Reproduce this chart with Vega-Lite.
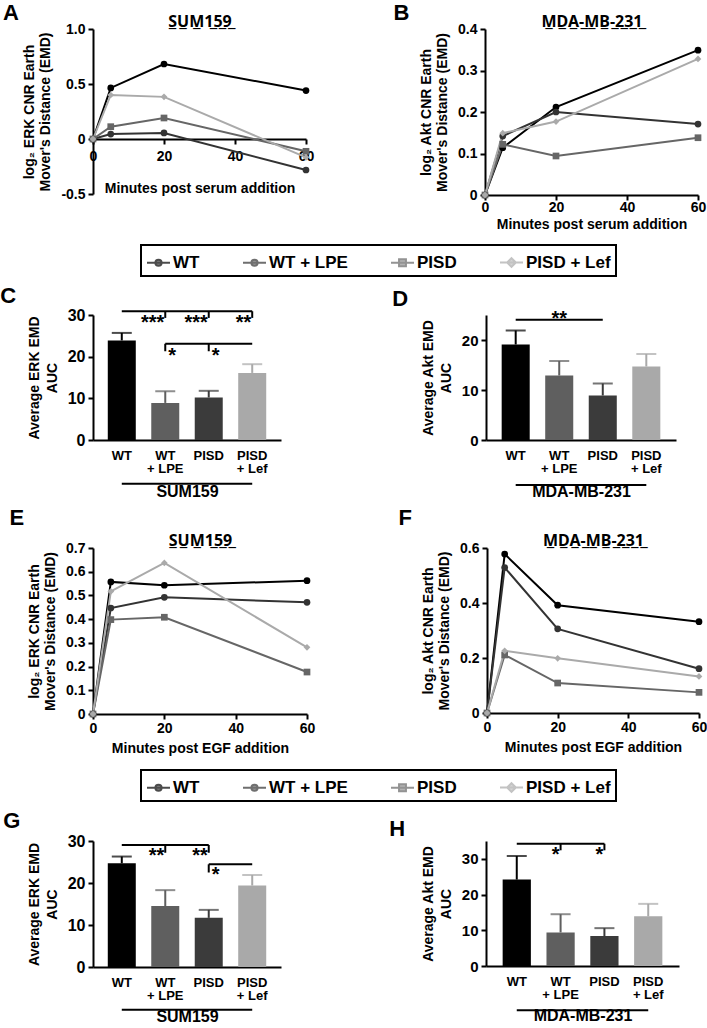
{
  "$schema": "https://vega.github.io/schema/vega-lite/v6.json",
  "padding": {"top": 2, "left": 0, "right": 0, "bottom": 0},
  "background": "white",
  "columns": 1,
  "align": "none",
  "spacing": 8,
  "datasets": {
    "serum_sum159": [
      {"series": "WT", "minutes": 0, "emd": 0}, {"series": "WT", "minutes": 5, "emd": 0.464}, {"series": "WT", "minutes": 20, "emd": 0.682}, {"series": "WT", "minutes": 60, "emd": 0.44},
      {"series": "WT + LPE", "minutes": 0, "emd": 0}, {"series": "WT + LPE", "minutes": 5, "emd": 0.045}, {"series": "WT + LPE", "minutes": 20, "emd": 0.055}, {"series": "WT + LPE", "minutes": 60, "emd": -0.282},
      {"series": "PISD", "minutes": 0, "emd": 0}, {"series": "PISD", "minutes": 5, "emd": 0.112}, {"series": "PISD", "minutes": 20, "emd": 0.191}, {"series": "PISD", "minutes": 60, "emd": -0.112},
      {"series": "PISD + Lef", "minutes": 0, "emd": 0}, {"series": "PISD + Lef", "minutes": 5, "emd": 0.4}, {"series": "PISD + Lef", "minutes": 20, "emd": 0.383}, {"series": "PISD + Lef", "minutes": 60, "emd": -0.167}
    ],
    "serum_mda": [
      {"series": "WT", "minutes": 0, "emd": 0}, {"series": "WT", "minutes": 5, "emd": 0.114}, {"series": "WT", "minutes": 20, "emd": 0.212}, {"series": "WT", "minutes": 60, "emd": 0.349},
      {"series": "WT + LPE", "minutes": 0, "emd": 0}, {"series": "WT + LPE", "minutes": 5, "emd": 0.142}, {"series": "WT + LPE", "minutes": 20, "emd": 0.2}, {"series": "WT + LPE", "minutes": 60, "emd": 0.171},
      {"series": "PISD", "minutes": 0, "emd": 0}, {"series": "PISD", "minutes": 5, "emd": 0.122}, {"series": "PISD", "minutes": 20, "emd": 0.094}, {"series": "PISD", "minutes": 60, "emd": 0.138},
      {"series": "PISD + Lef", "minutes": 0, "emd": 0}, {"series": "PISD + Lef", "minutes": 5, "emd": 0.149}, {"series": "PISD + Lef", "minutes": 20, "emd": 0.177}, {"series": "PISD + Lef", "minutes": 60, "emd": 0.328}
    ],
    "egf_sum159": [
      {"series": "WT", "minutes": 0, "emd": 0}, {"series": "WT", "minutes": 5, "emd": 0.557}, {"series": "WT", "minutes": 20, "emd": 0.543}, {"series": "WT", "minutes": 60, "emd": 0.562},
      {"series": "WT + LPE", "minutes": 0, "emd": 0}, {"series": "WT + LPE", "minutes": 5, "emd": 0.447}, {"series": "WT + LPE", "minutes": 20, "emd": 0.492}, {"series": "WT + LPE", "minutes": 60, "emd": 0.471},
      {"series": "PISD", "minutes": 0, "emd": 0}, {"series": "PISD", "minutes": 5, "emd": 0.398}, {"series": "PISD", "minutes": 20, "emd": 0.408}, {"series": "PISD", "minutes": 60, "emd": 0.177},
      {"series": "PISD + Lef", "minutes": 0, "emd": 0}, {"series": "PISD + Lef", "minutes": 5, "emd": 0.517}, {"series": "PISD + Lef", "minutes": 20, "emd": 0.637}, {"series": "PISD + Lef", "minutes": 60, "emd": 0.281}
    ],
    "egf_mda": [
      {"series": "WT", "minutes": 0, "emd": 0}, {"series": "WT", "minutes": 5, "emd": 0.578}, {"series": "WT", "minutes": 20, "emd": 0.392}, {"series": "WT", "minutes": 60, "emd": 0.332},
      {"series": "WT + LPE", "minutes": 0, "emd": 0}, {"series": "WT + LPE", "minutes": 5, "emd": 0.529}, {"series": "WT + LPE", "minutes": 20, "emd": 0.306}, {"series": "WT + LPE", "minutes": 60, "emd": 0.161},
      {"series": "PISD", "minutes": 0, "emd": 0}, {"series": "PISD", "minutes": 5, "emd": 0.211}, {"series": "PISD", "minutes": 20, "emd": 0.109}, {"series": "PISD", "minutes": 60, "emd": 0.075},
      {"series": "PISD + Lef", "minutes": 0, "emd": 0}, {"series": "PISD + Lef", "minutes": 5, "emd": 0.226}, {"series": "PISD + Lef", "minutes": 20, "emd": 0.199}, {"series": "PISD + Lef", "minutes": 60, "emd": 0.133}
    ],
    "auc": [
      {"panel": "C", "group": "WT", "mean": 23.9, "upper": 25.7},
      {"panel": "C", "group": "WT + LPE", "mean": 8.9, "upper": 11.7},
      {"panel": "C", "group": "PISD", "mean": 10.2, "upper": 11.8},
      {"panel": "C", "group": "PISD + Lef", "mean": 16.1, "upper": 18.2},
      {"panel": "D", "group": "WT", "mean": 19.1, "upper": 21.9},
      {"panel": "D", "group": "WT + LPE", "mean": 12.9, "upper": 15.8},
      {"panel": "D", "group": "PISD", "mean": 8.9, "upper": 11.3},
      {"panel": "D", "group": "PISD + Lef", "mean": 14.7, "upper": 17.2},
      {"panel": "G", "group": "WT", "mean": 24.7, "upper": 26.3},
      {"panel": "G", "group": "WT + LPE", "mean": 14.5, "upper": 18.3},
      {"panel": "G", "group": "PISD", "mean": 11.7, "upper": 13.6},
      {"panel": "G", "group": "PISD + Lef", "mean": 19.4, "upper": 21.9},
      {"panel": "H", "group": "WT", "mean": 24.2, "upper": 30.8},
      {"panel": "H", "group": "WT + LPE", "mean": 9.4, "upper": 14.5},
      {"panel": "H", "group": "PISD", "mean": 8.4, "upper": 10.6},
      {"panel": "H", "group": "PISD + Lef", "mean": 13.9, "upper": 17.4}
    ],
    "sig_lines": [
      {"panel": "C", "from": "WT", "to": "PISD + Lef", "y": 30.9},
      {"panel": "C", "from": "WT + LPE", "to": "PISD + Lef", "y": 23.1},
      {"panel": "D", "from": "WT", "to": "PISD", "y": 24.05},
      {"panel": "G", "from": "WT", "to": "PISD", "y": 29.05},
      {"panel": "G", "from": "PISD", "to": "PISD + Lef", "y": 24.45},
      {"panel": "H", "from": "WT", "to": "PISD", "y": 34.24}
    ],
    "sig_ticks": [
      {"panel": "C", "at": "WT + LPE", "y": 30.9, "y2": 29.3},
      {"panel": "C", "at": "PISD", "y": 30.9, "y2": 29.3},
      {"panel": "C", "at": "PISD + Lef", "y": 30.9, "y2": 29.3},
      {"panel": "C", "at": "WT + LPE", "y": 23.1, "y2": 21.3},
      {"panel": "C", "at": "PISD", "y": 23.1, "y2": 21.3},
      {"panel": "G", "at": "WT + LPE", "y": 29.05, "y2": 27.2},
      {"panel": "G", "at": "PISD", "y": 29.05, "y2": 27.2},
      {"panel": "G", "at": "PISD", "y": 24.45, "y2": 22.5},
      {"panel": "H", "at": "WT + LPE", "y": 34.24, "y2": 32.4},
      {"panel": "H", "at": "PISD", "y": 34.24, "y2": 32.4}
    ],
    "sig_stars": [
      {"panel": "C", "at": "WT + LPE", "y": 29.35, "label": "***", "side": "left"},
      {"panel": "C", "at": "PISD", "y": 29.35, "label": "***", "side": "left"},
      {"panel": "C", "at": "PISD + Lef", "y": 29.35, "label": "**", "side": "left"},
      {"panel": "C", "at": "WT + LPE", "y": 21.4, "label": "*", "side": "right"},
      {"panel": "C", "at": "PISD", "y": 21.4, "label": "*", "side": "right"},
      {"panel": "D", "at": "WT + LPE", "y": 25.3, "label": "**", "side": "center"},
      {"panel": "G", "at": "WT + LPE", "y": 27.6, "label": "**", "side": "left"},
      {"panel": "G", "at": "PISD", "y": 27.6, "label": "**", "side": "left"},
      {"panel": "G", "at": "PISD", "y": 23.0, "label": "*", "side": "right"},
      {"panel": "H", "at": "WT + LPE", "y": 32.55, "label": "*", "side": "left"},
      {"panel": "H", "at": "PISD", "y": 32.55, "label": "*", "side": "left"}
    ],
    "cell_lines": [
      {"panel": "C", "from": "WT", "to": "PISD + Lef", "y": -10.5},
      {"panel": "D", "from": "WT", "to": "PISD + Lef", "y": -9},
      {"panel": "G", "from": "WT", "to": "PISD + Lef", "y": -10.2},
      {"panel": "H", "from": "WT", "to": "PISD + Lef", "y": -12.4}
    ],
    "legend_items": [
      {"series": "WT"}, {"series": "WT + LPE"}, {"series": "PISD"}, {"series": "PISD + Lef"}
    ]
  },
  "concat": [
    {
      "spacing": 79,
      "hconcat": [
        {
          "width": 213, "height": 165,
          "title": {"text": "A", "anchor": "start", "frame": "bounds", "dx": -20, "offset": -12, "fontSize": 22},
          "data": {"name": "serum_sum159"},
          "encoding": {
            "x": {"field": "minutes", "type": "quantitative", "scale": {"domain": [0, 60], "nice": false},
                  "axis": {"values": [0, 20, 40, 60], "offset": -55, "title": "Minutes post serum addition", "labelPadding": 5, "titlePadding": 18}},
            "y": {"field": "emd", "type": "quantitative", "scale": {"domain": [-0.5, 1], "nice": false},
                  "axis": {"values": [-0.5, 0, 0.5, 1], "labelExpr": "datum.value == 0 ? '0' : replace(format(datum.value, '.1f'), '−', '-')", "title": ["log₂ ERK CNR Earth", "Mover's Distance (EMD)"]}},
            "color": {"field": "series", "type": "nominal", "scale": {"domain": ["WT", "WT + LPE", "PISD", "PISD + Lef"], "range": ["#000000", "#333333", "#666666", "#aaaaaa"]}, "legend": null}
          },
          "layer": [
            {"mark": {"type": "line", "strokeWidth": 2}},
            {"mark": {"type": "point", "filled": true, "size": 45, "opacity": 1},
             "encoding": {
               "x": {"field": "minutes", "type": "quantitative", "axis": {"orient": "top", "title": "S̲U̲M̲1̲5̲9̲", "titleFont": "Noto Sans", "labels": false, "ticks": false, "domain": false, "titleFontSize": 16, "titlePadding": 0}},
               "shape": {"field": "series", "type": "nominal", "scale": {"domain": ["WT", "WT + LPE", "PISD", "PISD + Lef"], "range": ["circle", "circle", "square", "diamond"]}, "legend": null}
             }}
          ],
          "resolve": {"axis": {"x": "independent"}}
        },
        {
          "width": 213, "height": 166,
          "title": {"text": "B", "anchor": "start", "frame": "bounds", "dx": -26, "offset": -12, "fontSize": 22},
          "data": {"name": "serum_mda"},
          "encoding": {
            "x": {"field": "minutes", "type": "quantitative", "scale": {"domain": [0, 60], "nice": false},
                  "axis": {"values": [0, 20, 40, 60], "title": "Minutes post serum addition", "labelPadding": 0, "titlePadding": 3}},
            "y": {"field": "emd", "type": "quantitative", "scale": {"domain": [0, 0.4], "nice": false},
                  "axis": {"values": [0, 0.1, 0.2, 0.3, 0.4], "labelExpr": "datum.value == 0 ? '0' : format(datum.value, '.1f')", "title": ["log₂ Akt CNR Earth", "Mover's Distance (EMD)"]}},
            "color": {"field": "series", "type": "nominal", "scale": {"domain": ["WT", "WT + LPE", "PISD", "PISD + Lef"], "range": ["#000000", "#333333", "#666666", "#aaaaaa"]}, "legend": null}
          },
          "layer": [
            {"mark": {"type": "line", "strokeWidth": 2}},
            {"mark": {"type": "point", "filled": true, "size": 45, "opacity": 1},
             "encoding": {
               "x": {"field": "minutes", "type": "quantitative", "axis": {"orient": "top", "title": "M̲D̲A̲-̲M̲B̲-̲2̲3̲1̲", "titleFont": "Noto Sans", "labels": false, "ticks": false, "domain": false, "titleFontSize": 16, "titlePadding": 0}},
               "shape": {"field": "series", "type": "nominal", "scale": {"domain": ["WT", "WT + LPE", "PISD", "PISD + Lef"], "range": ["circle", "circle", "square", "diamond"]}, "legend": null}
             }}
          ],
          "resolve": {"axis": {"x": "independent"}}
        }
      ]
    },
    {
      "width": 706, "height": 37,
      "data": {"name": "legend_items"},
      "mark": {"type": "point", "filled": true, "size": 529},
      "encoding": {
        "fill": {"field": "series", "type": "nominal", "scale": {"domain": ["WT", "WT + LPE", "PISD", "PISD + Lef"], "range": ["#000000", "#333333", "#666666", "#aaaaaa"]},
                 "legend": {"title": null, "orient": "none", "legendX": 48, "legendY": 6, "direction": "horizontal", "columnPadding": 39, "symbolSize": 529, "symbolStrokeWidth": 2, "labelFontSize": 17, "labelFontWeight": "bold", "labelColor": "black", "labelOffset": 2, "padding": 5, "strokeColor": "black", "fillColor": "white"}},
        "stroke": {"field": "series", "type": "nominal", "scale": {"domain": ["WT", "WT + LPE", "PISD", "PISD + Lef"], "range": ["#000000", "#333333", "#666666", "#aaaaaa"]},
                 "legend": {"title": null, "orient": "none", "legendX": 48, "legendY": 6, "direction": "horizontal", "columnPadding": 39, "symbolSize": 529, "symbolStrokeWidth": 2, "labelFontSize": 17, "labelFontWeight": "bold", "labelColor": "black", "labelOffset": 2, "padding": 5, "strokeColor": "black", "fillColor": "white"}},
        "shape": {"field": "series", "type": "nominal", "scale": {"domain": ["WT", "WT + LPE", "PISD", "PISD + Lef"], "range": ["M-1,0H1M0.27,0A0.27,0.27,0,1,1,-0.27,0A0.27,0.27,0,1,1,0.27,0Z", "M-1,0H1M0.27,0A0.27,0.27,0,1,1,-0.27,0A0.27,0.27,0,1,1,0.27,0Z", "M-1,0H1M-0.3,-0.3H0.3V0.3H-0.3Z", "M-1,0H1M0,-0.38L0.38,0L0,0.38L-0.38,0Z"]},
                 "legend": {"title": null, "orient": "none", "legendX": 48, "legendY": 6, "direction": "horizontal", "columnPadding": 39, "symbolSize": 529, "symbolStrokeWidth": 2, "labelFontSize": 17, "labelFontWeight": "bold", "labelColor": "black", "labelOffset": 2, "padding": 5, "strokeColor": "black", "fillColor": "white"}}
      }
    },
    {
      "spacing": 111,
      "hconcat": [
        {
          "width": 188, "height": 125,
          "title": {"text": "C", "anchor": "start", "frame": "bounds", "dx": -27, "offset": -1, "fontSize": 22},
          "layer": [
            {"data": {"name": "auc"}, "transform": [{"filter": "datum.panel == 'C'"}],
             "mark": {"type": "bar"},
             "encoding": {
               "x": {"field": "group", "type": "nominal", "scale": {"domain": ["WT", "WT + LPE", "PISD", "PISD + Lef"], "paddingInner": 0.356, "paddingOuter": 0.34},
                     "axis": {"labelAngle": 0, "ticks": false, "labelExpr": "datum.label == 'WT + LPE' ? ['WT', '+ LPE'] : datum.label == 'PISD + Lef' ? ['PISD', '+ Lef'] : datum.label", "labelFontSize": 13, "labelLineHeight": 13, "labelPadding": 9, "title": "SUM159", "titleFontSize": 16, "titlePadding": 8}},
               "y": {"field": "mean", "type": "quantitative", "scale": {"domain": [0, 30], "nice": false},
                     "axis": {"values": [0, 10, 20, 30], "labelFontSize": 16, "title": ["Average ERK EMD", "AUC"], "titleLineHeight": 18}},
               "color": {"field": "group", "type": "nominal", "scale": {"domain": ["WT", "WT + LPE", "PISD", "PISD + Lef"], "range": ["#000000", "#5f5f5f", "#3b3b3b", "#a9a9a9"]}, "legend": null}
             }},
            {"data": {"name": "auc"}, "transform": [{"filter": "datum.panel == 'C'"}],
             "mark": {"type": "rule", "strokeWidth": 2},
             "encoding": {"x": {"field": "group", "type": "nominal"}, "y": {"field": "mean", "type": "quantitative"}, "y2": {"field": "upper"}, "color": {"field": "group", "type": "nominal", "legend": null}}},
            {"data": {"name": "auc"}, "transform": [{"filter": "datum.panel == 'C'"}],
             "mark": {"type": "tick", "size": 20, "thickness": 2},
             "encoding": {"x": {"field": "group", "type": "nominal"}, "y": {"field": "upper", "type": "quantitative"}, "color": {"field": "group", "type": "nominal", "legend": null}}},
            {"data": {"name": "sig_lines"}, "transform": [{"filter": "datum.panel == 'C'"}],
             "mark": {"type": "rule", "strokeWidth": 2, "color": "black"},
             "encoding": {"x": {"field": "from", "type": "nominal"}, "x2": {"field": "to"}, "y": {"field": "y", "type": "quantitative"}}},
            {"data": {"name": "sig_ticks"}, "transform": [{"filter": "datum.panel == 'C'"}],
             "mark": {"type": "rule", "strokeWidth": 2, "color": "black"},
             "encoding": {"x": {"field": "at", "type": "nominal"}, "y": {"field": "y", "type": "quantitative"}, "y2": {"field": "y2"}}},
            {"data": {"name": "sig_stars"}, "transform": [{"filter": "datum.panel == 'C' && datum.side == 'left'"}],
             "mark": {"type": "text", "align": "right", "baseline": "middle", "dx": -1, "dy": 5, "fontSize": 20, "fontWeight": "bold", "color": "black"},
             "encoding": {"x": {"field": "at", "type": "nominal"}, "y": {"field": "y", "type": "quantitative"}, "text": {"field": "label"}}},
            {"data": {"name": "sig_stars"}, "transform": [{"filter": "datum.panel == 'C' && datum.side == 'right'"}],
             "mark": {"type": "text", "align": "left", "baseline": "middle", "dx": 3, "dy": 5, "fontSize": 20, "fontWeight": "bold", "color": "black"},
             "encoding": {"x": {"field": "at", "type": "nominal"}, "y": {"field": "y", "type": "quantitative"}, "text": {"field": "label"}}},
            {"data": {"name": "cell_lines"}, "transform": [{"filter": "datum.panel == 'C'"}],
             "mark": {"type": "rule", "strokeWidth": 2, "color": "black"},
             "encoding": {"x": {"field": "from", "type": "nominal"}, "x2": {"field": "to"}, "y": {"field": "y", "type": "quantitative"}}}
          ]
        },
        {
          "width": 190, "height": 125,
          "title": {"text": "D", "anchor": "start", "frame": "bounds", "dx": -29, "offset": -2, "fontSize": 22},
          "layer": [
            {"data": {"name": "auc"}, "transform": [{"filter": "datum.panel == 'D'"}],
             "mark": {"type": "bar"},
             "encoding": {
               "x": {"field": "group", "type": "nominal", "scale": {"domain": ["WT", "WT + LPE", "PISD", "PISD + Lef"], "paddingInner": 0.356, "paddingOuter": 0.36},
                     "axis": {"labelAngle": 0, "ticks": false, "labelExpr": "datum.label == 'WT + LPE' ? ['WT', '+ LPE'] : datum.label == 'PISD + Lef' ? ['PISD', '+ Lef'] : datum.label", "labelFontSize": 13, "labelLineHeight": 13, "labelPadding": 9, "title": "MDA-MB-231", "titleFontSize": 16, "titlePadding": 8}},
               "y": {"field": "mean", "type": "quantitative", "scale": {"domain": [0, 25], "nice": false},
                     "axis": {"values": [0, 5, 10, 15, 20, 25], "labelFontSize": 15, "title": ["Average Akt EMD", "AUC"], "titleLineHeight": 18}},
               "color": {"field": "group", "type": "nominal", "scale": {"domain": ["WT", "WT + LPE", "PISD", "PISD + Lef"], "range": ["#000000", "#5f5f5f", "#3b3b3b", "#a9a9a9"]}, "legend": null}
             }},
            {"data": {"name": "auc"}, "transform": [{"filter": "datum.panel == 'D'"}],
             "mark": {"type": "rule", "strokeWidth": 2},
             "encoding": {"x": {"field": "group", "type": "nominal"}, "y": {"field": "mean", "type": "quantitative"}, "y2": {"field": "upper"}, "color": {"field": "group", "type": "nominal", "legend": null}}},
            {"data": {"name": "auc"}, "transform": [{"filter": "datum.panel == 'D'"}],
             "mark": {"type": "tick", "size": 20, "thickness": 2},
             "encoding": {"x": {"field": "group", "type": "nominal"}, "y": {"field": "upper", "type": "quantitative"}, "color": {"field": "group", "type": "nominal", "legend": null}}},
            {"data": {"name": "sig_lines"}, "transform": [{"filter": "datum.panel == 'D'"}],
             "mark": {"type": "rule", "strokeWidth": 2, "color": "black"},
             "encoding": {"x": {"field": "from", "type": "nominal"}, "x2": {"field": "to"}, "y": {"field": "y", "type": "quantitative"}}},
            {"data": {"name": "sig_stars"}, "transform": [{"filter": "datum.panel == 'D'"}],
             "mark": {"type": "text", "align": "center", "baseline": "middle", "dy": 5, "fontSize": 20, "fontWeight": "bold", "color": "black"},
             "encoding": {"x": {"field": "at", "type": "nominal"}, "y": {"field": "y", "type": "quantitative"}, "text": {"field": "label"}}},
            {"data": {"name": "cell_lines"}, "transform": [{"filter": "datum.panel == 'D'"}],
             "mark": {"type": "rule", "strokeWidth": 2, "color": "black"},
             "encoding": {"x": {"field": "from", "type": "nominal"}, "x2": {"field": "to"}, "y": {"field": "y", "type": "quantitative"}}}
          ]
        }
      ]
    },
    {
      "spacing": 83,
      "hconcat": [
        {
          "width": 214, "height": 166,
          "title": {"text": "E", "anchor": "start", "frame": "bounds", "dx": -18, "offset": 2, "fontSize": 22},
          "data": {"name": "egf_sum159"},
          "encoding": {
            "x": {"field": "minutes", "type": "quantitative", "scale": {"domain": [0, 60], "nice": false},
                  "axis": {"values": [0, 20, 40, 60], "title": "Minutes post EGF addition", "labelPadding": 2, "titlePadding": 6}},
            "y": {"field": "emd", "type": "quantitative", "scale": {"domain": [0, 0.7], "nice": false},
                  "axis": {"values": [0, 0.1, 0.2, 0.3, 0.4, 0.5, 0.6, 0.7], "labelExpr": "datum.value == 0 ? '0' : format(datum.value, '.1f')", "title": ["log₂ ERK CNR Earth", "Mover's Distance (EMD)"]}},
            "color": {"field": "series", "type": "nominal", "scale": {"domain": ["WT", "WT + LPE", "PISD", "PISD + Lef"], "range": ["#000000", "#333333", "#666666", "#aaaaaa"]}, "legend": null}
          },
          "layer": [
            {"mark": {"type": "line", "strokeWidth": 2}},
            {"mark": {"type": "point", "filled": true, "size": 45, "opacity": 1},
             "encoding": {
               "x": {"field": "minutes", "type": "quantitative", "axis": {"orient": "top", "title": "S̲U̲M̲1̲5̲9̲", "titleFont": "Noto Sans", "labels": false, "ticks": false, "domain": false, "titleFontSize": 16, "titlePadding": 0}},
               "shape": {"field": "series", "type": "nominal", "scale": {"domain": ["WT", "WT + LPE", "PISD", "PISD + Lef"], "range": ["circle", "circle", "square", "diamond"]}, "legend": null}
             }}
          ],
          "resolve": {"axis": {"x": "independent"}}
        },
        {
          "width": 212, "height": 165,
          "title": {"text": "F", "anchor": "start", "frame": "bounds", "dx": -23, "offset": 2, "fontSize": 22},
          "data": {"name": "egf_mda"},
          "encoding": {
            "x": {"field": "minutes", "type": "quantitative", "scale": {"domain": [0, 60], "nice": false},
                  "axis": {"values": [0, 20, 40, 60], "title": "Minutes post EGF addition", "labelPadding": 2, "titlePadding": 6}},
            "y": {"field": "emd", "type": "quantitative", "scale": {"domain": [0, 0.6], "nice": false},
                  "axis": {"values": [0, 0.2, 0.4, 0.6], "labelExpr": "datum.value == 0 ? '0' : format(datum.value, '.1f')", "title": ["log₂ Akt CNR Earth", "Mover's Distance (EMD)"]}},
            "color": {"field": "series", "type": "nominal", "scale": {"domain": ["WT", "WT + LPE", "PISD", "PISD + Lef"], "range": ["#000000", "#333333", "#666666", "#aaaaaa"]}, "legend": null}
          },
          "layer": [
            {"mark": {"type": "line", "strokeWidth": 2}},
            {"mark": {"type": "point", "filled": true, "size": 45, "opacity": 1},
             "encoding": {
               "x": {"field": "minutes", "type": "quantitative", "axis": {"orient": "top", "title": "M̲D̲A̲-̲M̲B̲-̲2̲3̲1̲", "titleFont": "Noto Sans", "labels": false, "ticks": false, "domain": false, "titleFontSize": 16, "titlePadding": 0}},
               "shape": {"field": "series", "type": "nominal", "scale": {"domain": ["WT", "WT + LPE", "PISD", "PISD + Lef"], "range": ["circle", "circle", "square", "diamond"]}, "legend": null}
             }}
          ],
          "resolve": {"axis": {"x": "independent"}}
        }
      ]
    },
    {
      "width": 706, "height": 37,
      "data": {"name": "legend_items"},
      "mark": {"type": "point", "filled": true, "size": 529},
      "encoding": {
        "fill": {"field": "series", "type": "nominal", "scale": {"domain": ["WT", "WT + LPE", "PISD", "PISD + Lef"], "range": ["#000000", "#333333", "#666666", "#aaaaaa"]},
                 "legend": {"title": null, "orient": "none", "legendX": 48, "legendY": 7, "direction": "horizontal", "columnPadding": 39, "symbolSize": 529, "symbolStrokeWidth": 2, "labelFontSize": 17, "labelFontWeight": "bold", "labelColor": "black", "labelOffset": 2, "padding": 5, "strokeColor": "black", "fillColor": "white"}},
        "stroke": {"field": "series", "type": "nominal", "scale": {"domain": ["WT", "WT + LPE", "PISD", "PISD + Lef"], "range": ["#000000", "#333333", "#666666", "#aaaaaa"]},
                 "legend": {"title": null, "orient": "none", "legendX": 48, "legendY": 7, "direction": "horizontal", "columnPadding": 39, "symbolSize": 529, "symbolStrokeWidth": 2, "labelFontSize": 17, "labelFontWeight": "bold", "labelColor": "black", "labelOffset": 2, "padding": 5, "strokeColor": "black", "fillColor": "white"}},
        "shape": {"field": "series", "type": "nominal", "scale": {"domain": ["WT", "WT + LPE", "PISD", "PISD + Lef"], "range": ["M-1,0H1M0.27,0A0.27,0.27,0,1,1,-0.27,0A0.27,0.27,0,1,1,0.27,0Z", "M-1,0H1M0.27,0A0.27,0.27,0,1,1,-0.27,0A0.27,0.27,0,1,1,0.27,0Z", "M-1,0H1M-0.3,-0.3H0.3V0.3H-0.3Z", "M-1,0H1M0,-0.38L0.38,0L0,0.38L-0.38,0Z"]},
                 "legend": {"title": null, "orient": "none", "legendX": 48, "legendY": 7, "direction": "horizontal", "columnPadding": 39, "symbolSize": 529, "symbolStrokeWidth": 2, "labelFontSize": 17, "labelFontWeight": "bold", "labelColor": "black", "labelOffset": 2, "padding": 5, "strokeColor": "black", "fillColor": "white"}}
      }
    },
    {
      "spacing": 108,
      "hconcat": [
        {
          "width": 188, "height": 126,
          "title": {"text": "G", "anchor": "start", "frame": "bounds", "dx": -24, "offset": 0, "fontSize": 22},
          "layer": [
            {"data": {"name": "auc"}, "transform": [{"filter": "datum.panel == 'G'"}],
             "mark": {"type": "bar"},
             "encoding": {
               "x": {"field": "group", "type": "nominal", "scale": {"domain": ["WT", "WT + LPE", "PISD", "PISD + Lef"], "paddingInner": 0.356, "paddingOuter": 0.34},
                     "axis": {"labelAngle": 0, "ticks": false, "labelExpr": "datum.label == 'WT + LPE' ? ['WT', '+ LPE'] : datum.label == 'PISD + Lef' ? ['PISD', '+ Lef'] : datum.label", "labelFontSize": 13, "labelLineHeight": 13, "labelPadding": 9, "title": "SUM159", "titleFontSize": 16, "titlePadding": 6}},
               "y": {"field": "mean", "type": "quantitative", "scale": {"domain": [0, 30], "nice": false},
                     "axis": {"values": [0, 10, 20, 30], "labelFontSize": 16, "title": ["Average ERK EMD", "AUC"], "titleLineHeight": 18}},
               "color": {"field": "group", "type": "nominal", "scale": {"domain": ["WT", "WT + LPE", "PISD", "PISD + Lef"], "range": ["#000000", "#5f5f5f", "#3b3b3b", "#a9a9a9"]}, "legend": null}
             }},
            {"data": {"name": "auc"}, "transform": [{"filter": "datum.panel == 'G'"}],
             "mark": {"type": "rule", "strokeWidth": 2},
             "encoding": {"x": {"field": "group", "type": "nominal"}, "y": {"field": "mean", "type": "quantitative"}, "y2": {"field": "upper"}, "color": {"field": "group", "type": "nominal", "legend": null}}},
            {"data": {"name": "auc"}, "transform": [{"filter": "datum.panel == 'G'"}],
             "mark": {"type": "tick", "size": 20, "thickness": 2},
             "encoding": {"x": {"field": "group", "type": "nominal"}, "y": {"field": "upper", "type": "quantitative"}, "color": {"field": "group", "type": "nominal", "legend": null}}},
            {"data": {"name": "sig_lines"}, "transform": [{"filter": "datum.panel == 'G'"}],
             "mark": {"type": "rule", "strokeWidth": 2, "color": "black"},
             "encoding": {"x": {"field": "from", "type": "nominal"}, "x2": {"field": "to"}, "y": {"field": "y", "type": "quantitative"}}},
            {"data": {"name": "sig_ticks"}, "transform": [{"filter": "datum.panel == 'G'"}],
             "mark": {"type": "rule", "strokeWidth": 2, "color": "black"},
             "encoding": {"x": {"field": "at", "type": "nominal"}, "y": {"field": "y", "type": "quantitative"}, "y2": {"field": "y2"}}},
            {"data": {"name": "sig_stars"}, "transform": [{"filter": "datum.panel == 'G' && datum.side == 'left'"}],
             "mark": {"type": "text", "align": "right", "baseline": "middle", "dx": -1, "dy": 5, "fontSize": 20, "fontWeight": "bold", "color": "black"},
             "encoding": {"x": {"field": "at", "type": "nominal"}, "y": {"field": "y", "type": "quantitative"}, "text": {"field": "label"}}},
            {"data": {"name": "sig_stars"}, "transform": [{"filter": "datum.panel == 'G' && datum.side == 'right'"}],
             "mark": {"type": "text", "align": "left", "baseline": "middle", "dx": 3, "dy": 5, "fontSize": 20, "fontWeight": "bold", "color": "black"},
             "encoding": {"x": {"field": "at", "type": "nominal"}, "y": {"field": "y", "type": "quantitative"}, "text": {"field": "label"}}},
            {"data": {"name": "cell_lines"}, "transform": [{"filter": "datum.panel == 'G'"}],
             "mark": {"type": "rule", "strokeWidth": 2, "color": "black"},
             "encoding": {"x": {"field": "from", "type": "nominal"}, "x2": {"field": "to"}, "y": {"field": "y", "type": "quantitative"}}}
          ]
        },
        {
          "width": 193, "height": 125,
          "title": {"text": "H", "anchor": "start", "frame": "bounds", "dx": -32, "offset": 0, "fontSize": 22},
          "layer": [
            {"data": {"name": "auc"}, "transform": [{"filter": "datum.panel == 'H'"}],
             "mark": {"type": "bar"},
             "encoding": {
               "x": {"field": "group", "type": "nominal", "scale": {"domain": ["WT", "WT + LPE", "PISD", "PISD + Lef"], "paddingInner": 0.356, "paddingOuter": 0.38},
                     "axis": {"labelAngle": 0, "ticks": false, "labelExpr": "datum.label == 'WT + LPE' ? ['WT', '+ LPE'] : datum.label == 'PISD + Lef' ? ['PISD', '+ Lef'] : datum.label", "labelFontSize": 13, "labelLineHeight": 13, "labelPadding": 9, "title": "MDA-MB-231", "titleFontSize": 16, "titlePadding": 6}},
               "y": {"field": "mean", "type": "quantitative", "scale": {"domain": [0, 35], "nice": false},
                     "axis": {"values": [0, 5, 10, 15, 20, 25, 30, 35], "labelFontSize": 15, "title": ["Average Akt EMD", "AUC"], "titleLineHeight": 18}},
               "color": {"field": "group", "type": "nominal", "scale": {"domain": ["WT", "WT + LPE", "PISD", "PISD + Lef"], "range": ["#000000", "#5f5f5f", "#3b3b3b", "#a9a9a9"]}, "legend": null}
             }},
            {"data": {"name": "auc"}, "transform": [{"filter": "datum.panel == 'H'"}],
             "mark": {"type": "rule", "strokeWidth": 2},
             "encoding": {"x": {"field": "group", "type": "nominal"}, "y": {"field": "mean", "type": "quantitative"}, "y2": {"field": "upper"}, "color": {"field": "group", "type": "nominal", "legend": null}}},
            {"data": {"name": "auc"}, "transform": [{"filter": "datum.panel == 'H'"}],
             "mark": {"type": "tick", "size": 20, "thickness": 2},
             "encoding": {"x": {"field": "group", "type": "nominal"}, "y": {"field": "upper", "type": "quantitative"}, "color": {"field": "group", "type": "nominal", "legend": null}}},
            {"data": {"name": "sig_lines"}, "transform": [{"filter": "datum.panel == 'H'"}],
             "mark": {"type": "rule", "strokeWidth": 2, "color": "black"},
             "encoding": {"x": {"field": "from", "type": "nominal"}, "x2": {"field": "to"}, "y": {"field": "y", "type": "quantitative"}}},
            {"data": {"name": "sig_ticks"}, "transform": [{"filter": "datum.panel == 'H'"}],
             "mark": {"type": "rule", "strokeWidth": 2, "color": "black"},
             "encoding": {"x": {"field": "at", "type": "nominal"}, "y": {"field": "y", "type": "quantitative"}, "y2": {"field": "y2"}}},
            {"data": {"name": "sig_stars"}, "transform": [{"filter": "datum.panel == 'H' && datum.side == 'left'"}],
             "mark": {"type": "text", "align": "right", "baseline": "middle", "dx": -1, "dy": 5, "fontSize": 20, "fontWeight": "bold", "color": "black"},
             "encoding": {"x": {"field": "at", "type": "nominal"}, "y": {"field": "y", "type": "quantitative"}, "text": {"field": "label"}}},
            {"data": {"name": "cell_lines"}, "transform": [{"filter": "datum.panel == 'H'"}],
             "mark": {"type": "rule", "strokeWidth": 2, "color": "black"},
             "encoding": {"x": {"field": "from", "type": "nominal"}, "x2": {"field": "to"}, "y": {"field": "y", "type": "quantitative"}}}
          ]
        }
      ]
    }
  ],
  "resolve": {"scale": {"color": "independent", "shape": "independent", "fill": "independent", "stroke": "independent"}},
  "config": {
    "font": "Liberation Sans",
    "view": {"stroke": null},
    "title": {"font": "Liberation Sans", "fontWeight": "bold", "color": "black"},
    "axis": {"domainColor": "black", "domainWidth": 2, "tickColor": "black", "tickWidth": 2, "tickSize": 5,
             "labelColor": "black", "labelFont": "Liberation Sans", "labelFontSize": 14, "labelFontWeight": "bold", "labelFlush": false, "labelOverlap": false, "labelPadding": 3,
             "titleColor": "black", "titleFont": "Liberation Sans", "titleFontSize": 14, "titleFontWeight": "bold", "titleLineHeight": 16, "titlePadding": 8, "grid": false},
    "legend": {"labelFont": "Liberation Sans", "strokeWidth": 2},
    "text": {"font": "Liberation Sans"}
  }
}
